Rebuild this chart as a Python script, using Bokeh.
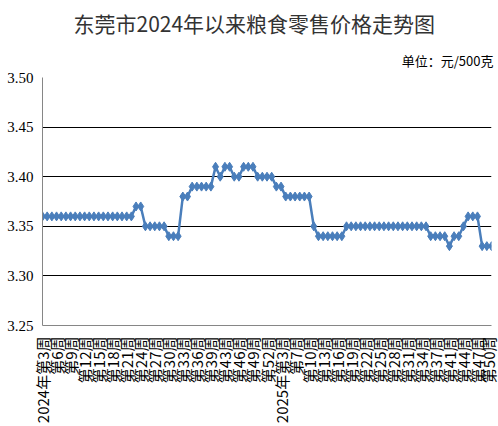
import math
from bokeh.plotting import figure
from bokeh.models import Range1d, FixedTicker, Title, ColumnDataSource, PrintfTickFormatter
from bokeh.embed import file_html
from bokeh.resources import INLINE

# ---- data ----
years = [2024] * 49 + [2025] * 48
weeks = ([w for w in range(3, 53) if w != 40] +
         [w for w in range(1, 51) if w not in (5, 40)])
prices = [
    3.36, 3.36, 3.36, 3.36, 3.36, 3.36, 3.36, 3.36, 3.36, 3.36,
    3.36, 3.36, 3.36, 3.36, 3.36, 3.36, 3.36, 3.36, 3.36, 3.36,
    3.37, 3.37, 3.35, 3.35, 3.35, 3.35, 3.35, 3.34, 3.34, 3.34,
    3.38, 3.38, 3.39, 3.39, 3.39, 3.39, 3.39, 3.41, 3.40, 3.41,
    3.41, 3.40, 3.40, 3.41, 3.41, 3.41, 3.40, 3.40, 3.40, 3.40,
    3.39, 3.39, 3.38, 3.38, 3.38, 3.38, 3.38, 3.38, 3.35, 3.34,
    3.34, 3.34, 3.34, 3.34, 3.34, 3.35, 3.35, 3.35, 3.35, 3.35,
    3.35, 3.35, 3.35, 3.35, 3.35, 3.35, 3.35, 3.35, 3.35, 3.35,
    3.35, 3.35, 3.35, 3.34, 3.34, 3.34, 3.34, 3.33, 3.34, 3.34,
    3.35, 3.36, 3.36, 3.36, 3.33, 3.33, 3.33,
]
y_ticks = [3.25, 3.30, 3.35, 3.40, 3.45, 3.50]
title_text = "东莞市2024年以来粮食零售价格走势图"
unit_text = "单位：元/500克"

# ---- labels every third category ----
idx = list(range(len(prices)))
label_idx = idx[::3]
overrides = {}
seen_years = set()
for i in label_idx:
    y, w = years[i], weeks[i]
    if y not in seen_years:
        overrides[i] = f"{y}年第{w}周"
        seen_years.add(y)
    else:
        overrides[i] = f"第{w}周"

src = ColumnDataSource(dict(x=idx, y=prices))

p = figure(width=498, height=426, output_backend="svg", toolbar_location=None,
           title=None,
           x_range=Range1d(0, len(prices) - 1), y_range=Range1d(y_ticks[0], y_ticks[-1]),
           min_border_left=42, min_border_right=7, min_border_top=77, min_border_bottom=101)
p.outline_line_color = None
p.background_fill_color = "white"
p.border_fill_color = "white"

color = "#4A7EBB"
p.line("x", "y", source=src, line_color=color, line_width=2.5)
p.scatter("x", "y", source=src, marker="diamond", size=9, fill_color=color, line_color=color)

# axes
p.xaxis.ticker = FixedTicker(ticks=label_idx)
p.xaxis.major_label_overrides = overrides
p.xaxis.major_label_orientation = math.pi / 2
p.xaxis.major_label_text_font = "Noto Sans CJK SC"
p.xaxis.major_label_text_font_size = "15px"
p.xaxis.major_label_text_color = "#000000"
p.xaxis.major_label_standoff = 11
p.yaxis.ticker = FixedTicker(ticks=y_ticks)
p.yaxis.formatter = PrintfTickFormatter(format="%.2f")
p.yaxis.major_label_text_font = "Liberation Serif"
p.yaxis.major_label_text_font_size = "15px"
p.yaxis.major_label_text_color = "#000000"
p.yaxis.major_label_standoff = 9
for ax in (p.xaxis[0], p.yaxis[0]):
    ax.axis_line_color = "#868686"
    ax.axis_line_width = 1
    ax.major_tick_out = 0
    ax.major_tick_in = 0
    ax.minor_tick_out = 0
    ax.minor_tick_in = 0

p.xgrid.visible = False
p.ygrid.ticker = FixedTicker(ticks=y_ticks[1:])
p.ygrid.grid_line_color = "#000000"
p.ygrid.grid_line_width = 1

# unit (closest to the frame), then main title above it
p.add_layout(Title(text=unit_text, align="right", offset=-2, standoff=16,
                   text_font="Noto Sans CJK SC", text_font_size="13px",
                   text_font_style="normal", text_color="#000000"), "above")
p.add_layout(Title(text=title_text, align="left", offset=31, standoff=6,
                   text_font="Noto Sans CJK SC", text_font_size="21px",
                   text_font_style="normal", text_color="#333333"), "above")

open("out.html", "w").write(file_html(p, INLINE))
